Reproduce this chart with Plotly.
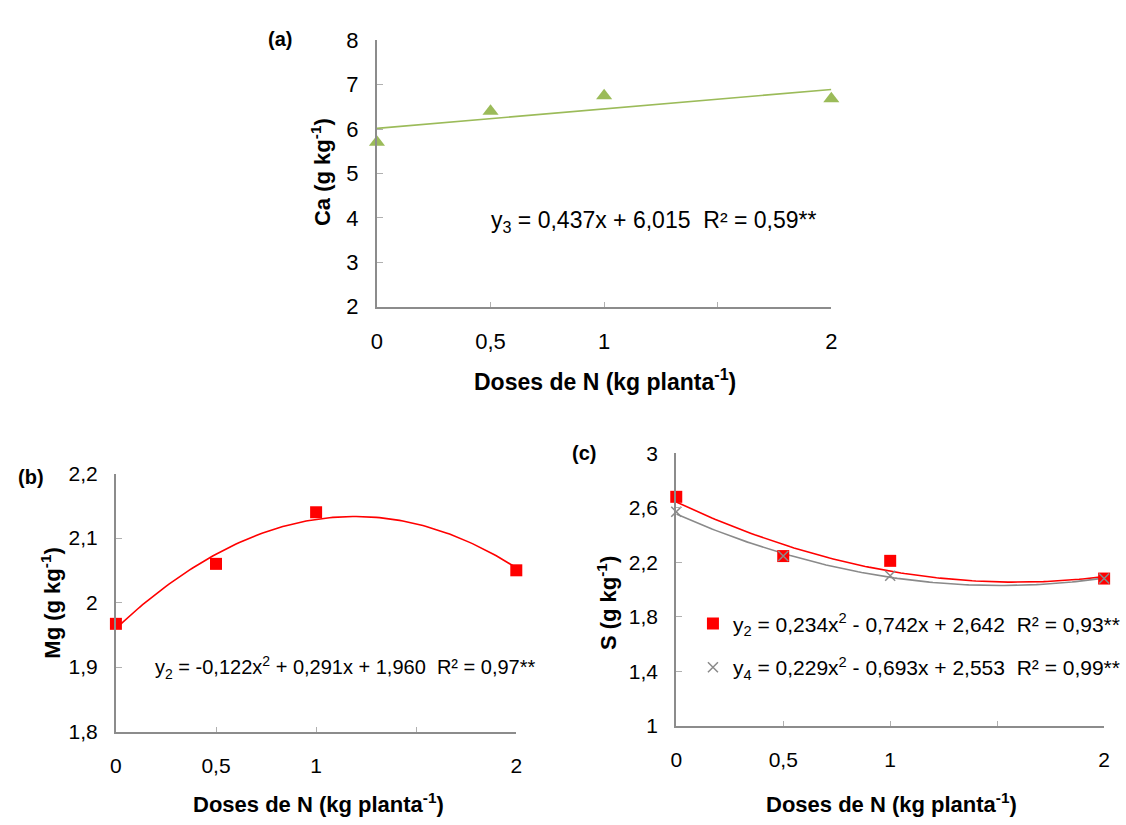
import numpy as np
import plotly.graph_objects as go

# ---------------- data ----------------
doses = [0, 0.5, 1, 2]
ca = [5.70, 6.40, 6.75, 6.68]
mg = [1.967, 2.06, 2.14, 2.05]
s_y2 = [2.68, 2.245, 2.21, 2.08]
s_y4 = [2.57, 2.245, 2.10, 2.08]

# regression coefficients (a2, a1, a0) as printed on the chart
ca_coef = [0.0, 0.437, 6.015]
mg_coef = [-0.122, 0.291, 1.960]
s2_coef = [0.234, -0.742, 2.642]
s4_coef = [0.229, -0.693, 2.553]

x_tickvals = [0, 0.5, 1, 1.5, 2]
x_ticktext = ["0", "0,5", "1", "", "2"]
ca_tickvals = [2, 3, 4, 5, 6, 7, 8]
ca_ticktext = ["2", "3", "4", "5", "6", "7", "8"]
mg_tickvals = [1.8, 1.9, 2.0, 2.1, 2.2]
mg_ticktext = ["1,8", "1,9", "2", "2,1", "2,2"]
s_tickvals = [1.0, 1.4, 1.8, 2.2, 2.6, 3.0]
s_ticktext = ["1", "1,4", "1,8", "2,2", "2,6", "3"]

eq_ca = "y<sub>3</sub> = 0,437x + 6,015  R² = 0,59**"
eq_mg = "y<sub>2</sub> = -0,122x<sup>2</sup> + 0,291x + 1,960  R² = 0,97**"
eq_s2 = "y<sub>2</sub> = 0,234x<sup>2</sup> - 0,742x + 2,642  R² = 0,93**"
eq_s4 = "y<sub>4</sub> = 0,229x<sup>2</sup> - 0,693x + 2,553  R² = 0,99**"

# ---------------- styling ----------------
W, H = 1126, 825
FONT = "Liberation Sans, Arial, sans-serif"
GREEN = "#9BBB59"
RED = "#FF0000"
GRAY = "#8A8A8A"
AXIS = "#8C8C8C"


def px_x(p):
    return p / W


def px_y(p):
    return 1 - p / H


xs = np.linspace(0, 2, 121)


def fit(coef):
    return np.polyval(coef, xs)


fig = go.Figure()

# (a) Ca
fig.add_trace(go.Scatter(x=xs, y=fit(ca_coef), mode="lines", line=dict(color=GREEN, width=1.6),
                         xaxis="x", yaxis="y", showlegend=False, hoverinfo="skip"))
fig.add_trace(go.Scatter(x=doses, y=ca, mode="markers", xaxis="x", yaxis="y", showlegend=False,
                         marker=dict(symbol="triangle-up", size=14, color=GREEN), cliponaxis=False))

# (b) Mg
fig.add_trace(go.Scatter(x=xs, y=fit(mg_coef), mode="lines", line=dict(color=RED, width=1.6),
                         xaxis="x2", yaxis="y2", showlegend=False, hoverinfo="skip"))
fig.add_trace(go.Scatter(x=doses, y=mg, mode="markers", xaxis="x2", yaxis="y2", showlegend=False,
                         marker=dict(symbol="square", size=12, color=RED), cliponaxis=False))

# (c) S
fig.add_trace(go.Scatter(x=xs, y=fit(s2_coef), mode="lines", line=dict(color=RED, width=1.6),
                         xaxis="x3", yaxis="y3", showlegend=False, hoverinfo="skip"))
fig.add_trace(go.Scatter(x=xs, y=fit(s4_coef), mode="lines", line=dict(color=GRAY, width=1.6),
                         xaxis="x3", yaxis="y3", showlegend=False, hoverinfo="skip"))
fig.add_trace(go.Scatter(x=doses, y=s_y2, mode="markers", xaxis="x3", yaxis="y3", name=eq_s2,
                         legend="legend",
                         marker=dict(symbol="square", size=12, color=RED), cliponaxis=False))
fig.add_trace(go.Scatter(x=doses, y=s_y4, mode="markers", xaxis="x3", yaxis="y3", name=eq_s4,
                         legend="legend2",
                         marker=dict(symbol="x-thin", size=10, color=GRAY,
                                     line=dict(color=GRAY, width=1.5)), cliponaxis=False))


def xax(size, **kw):
    d = dict(range=[0, 2], tickvals=x_tickvals, ticktext=x_ticktext, showline=True,
             linecolor=AXIS, linewidth=2, ticks="inside", ticklen=5, tickcolor="#B0B0B0",
             showgrid=False, zeroline=False, ticklabelstandoff=14,
             tickfont=dict(family=FONT, size=size, color="black"))
    d.update(kw)
    return d


def yax(size, **kw):
    d = dict(showline=True, linecolor=AXIS, linewidth=2, ticks="inside", ticklen=6,
             tickcolor="#B0B0B0", showgrid=False, zeroline=False, ticklabelstandoff=12,
             tickfont=dict(family=FONT, size=size, color="black"))
    d.update(kw)
    return d


fig.update_layout(
    width=W, height=H,
    margin=dict(l=0, r=0, t=0, b=0),
    paper_bgcolor="white", plot_bgcolor="white",
    font=dict(family=FONT, color="black"),
    xaxis=xax(22, domain=[px_x(378), px_x(841)], anchor="y"),
    yaxis=yax(22, domain=[px_y(304), px_y(29)], anchor="x", range=[2, 8],
              tickvals=ca_tickvals, ticktext=ca_ticktext),
    xaxis2=xax(21, domain=[px_x(112), px_x(520)], anchor="y2"),
    yaxis2=yax(21, domain=[px_y(742), px_y(476)], anchor="x2", range=[1.8, 2.2],
               tickvals=mg_tickvals, ticktext=mg_ticktext),
    xaxis3=xax(21, domain=[px_x(683), px_x(1119)], anchor="y3"),
    yaxis3=yax(21, domain=[px_y(736), px_y(455)], anchor="x3", range=[1, 3],
               tickvals=s_tickvals, ticktext=s_ticktext),
    legend=dict(x=px_x(700), y=px_y(631), xanchor="left", yanchor="middle",
                bgcolor="rgba(0,0,0,0)", font=dict(family=FONT, size=21), itemwidth=30),
    legend2=dict(x=px_x(700), y=px_y(676), xanchor="left", yanchor="middle",
                 bgcolor="rgba(0,0,0,0)", font=dict(family=FONT, size=21), itemwidth=30),
)

ann = []


def add(text, x, y, size=20, bold=False, angle=0, xanchor="center"):
    ann.append(dict(text=("<b>%s</b>" % text) if bold else text, x=px_x(x), y=px_y(y),
                    xref="paper", yref="paper", showarrow=False, textangle=angle,
                    xanchor=xanchor, yanchor="middle",
                    font=dict(family=FONT, size=size, color="black")))


# panel labels
add("(a)", 279, 28, size=20, bold=True)
add("(b)", 25, 480, size=20, bold=True)
add("(c)", 589, 455, size=20, bold=True)

# axis titles
xtitle = "Doses de N (kg planta<sup>-1</sup>)"
add(xtitle, 610, 380, size=23, bold=True)
add(xtitle, 318, 816, size=22, bold=True)
add(xtitle, 902, 816, size=22, bold=True)
add("Ca (g kg<sup>-1</sup>)", 321, 165, size=22, bold=True, angle=-90)
add("Mg (g kg<sup>-1</sup>)", 45, 610, size=22, bold=True, angle=-90)
add("S (g kg<sup>-1</sup>)", 612, 610, size=22, bold=True, angle=-90)

# equations
add(eq_ca, 492, 216, size=23, xanchor="left")
add(eq_mg, 150, 676, size=20, xanchor="left")

fig.update_layout(annotations=ann)

fig.write_html("out.html", config={"displayModeBar": False},
               post_script="document.body.style.margin='0px';")
